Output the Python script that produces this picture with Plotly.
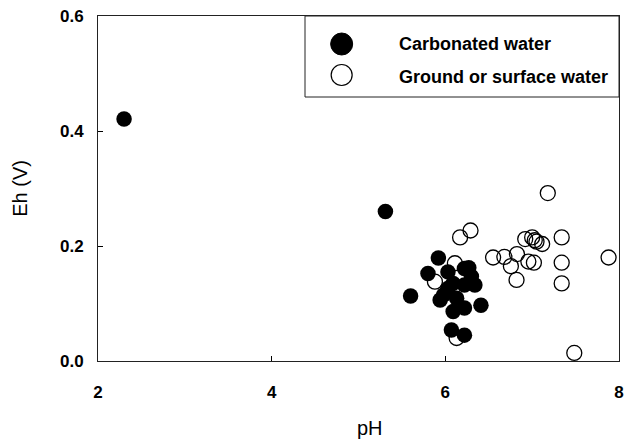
import plotly.graph_objects as go

# Carbonated water (filled markers)
carb_ph = [2.30, 5.31, 5.60, 5.80, 5.92, 5.94, 5.98, 6.03, 6.03, 6.09, 6.09, 6.13,
           6.07, 6.22, 6.27, 6.30, 6.34, 6.22, 6.22, 6.22, 6.41]
carb_eh = [0.421, 0.260, 0.113, 0.152, 0.179, 0.106, 0.115, 0.155, 0.126, 0.135, 0.086, 0.109,
           0.054, 0.161, 0.162, 0.147, 0.132, 0.132, 0.092, 0.045, 0.097]

# Ground or surface water (open markers)
gw_ph = [7.18, 6.17, 6.29, 6.92, 7.03, 7.05, 7.115, 7.00, 7.34, 7.88, 6.55, 6.68, 6.825,
         6.755, 6.956, 7.02, 7.34, 6.82, 7.34, 7.485, 6.11, 6.13, 5.88]
gw_eh = [0.292, 0.215, 0.227, 0.212, 0.210, 0.2075, 0.2035, 0.215, 0.215, 0.180, 0.180, 0.181, 0.186,
         0.165, 0.173, 0.171, 0.171, 0.141, 0.135, 0.014, 0.170, 0.040, 0.138]

x_ticks = [2, 4, 6, 8]
y_ticks = [0.0, 0.2, 0.4, 0.6]
legend_names = ["Carbonated water", "Ground or surface water"]

FONT = "Liberation Sans, Arial, sans-serif"

fig = go.Figure()
fig.add_trace(go.Scatter(
    x=gw_ph, y=gw_eh, mode="markers", name=legend_names[1],
    marker=dict(symbol="circle-open", size=15, color="black", line=dict(width=1.3, color="black")),
    showlegend=False, cliponaxis=False))
fig.add_trace(go.Scatter(
    x=carb_ph, y=carb_eh, mode="markers", name=legend_names[0],
    marker=dict(symbol="circle", size=15.5, color="black", line=dict(width=0)),
    showlegend=False, cliponaxis=False))

L, R, T, B = 98, 3, 16, 80
W, H = 627, 441
pw, ph = W - L - R, H - T - B

def px_x(p):
    return (p - L) / pw

def px_y(p):
    return (H - B - p) / ph

shapes = [
    dict(type="rect", xref="paper", yref="paper",
         x0=px_x(307), x1=1.0, y0=px_y(97), y1=1.0,
         line=dict(color="#222", width=1), fillcolor="white", layer="below"),
    dict(type="circle", xref="paper", yref="paper", xsizemode="pixel", ysizemode="pixel",
         xanchor=px_x(344), yanchor=px_y(44), x0=-11, x1=11, y0=-11, y1=11,
         fillcolor="black", line=dict(color="black", width=1)),
    dict(type="circle", xref="paper", yref="paper", xsizemode="pixel", ysizemode="pixel",
         xanchor=px_x(344), yanchor=px_y(75), x0=-10.5, x1=10.5, y0=-10.5, y1=10.5,
         fillcolor="rgba(0,0,0,0)", line=dict(color="black", width=1.2)),
]

annotations = [
    dict(text=legend_names[0], xref="paper", yref="paper", x=px_x(400), y=px_y(44),
         xanchor="left", yanchor="middle", showarrow=False,
         font=dict(family=FONT, size=18, color="black", weight="bold")),
    dict(text=legend_names[1], xref="paper", yref="paper", x=px_x(400), y=px_y(77),
         xanchor="left", yanchor="middle", showarrow=False,
         font=dict(family=FONT, size=18, color="black", weight="bold")),
    dict(text="pH", xref="paper", yref="paper", x=px_x(373), y=px_y(428),
         xanchor="center", yanchor="middle", showarrow=False,
         font=dict(family=FONT, size=20, color="black")),
    dict(text="Eh (V)", xref="paper", yref="paper", x=px_x(19), y=px_y(188),
         xanchor="center", yanchor="middle", showarrow=False, textangle=-90,
         font=dict(family=FONT, size=20, color="black")),
]

fig.update_layout(
    width=W, height=H,
    margin=dict(l=L, r=R, t=T, b=B),
    paper_bgcolor="white", plot_bgcolor="white",
    shapes=shapes, annotations=annotations,
    showlegend=False,
    font=dict(family=FONT, color="black"),
)
fig.update_xaxes(
    range=[2, 8], tickvals=x_ticks, ticktext=[str(v) for v in x_ticks],
    ticks="inside", ticklen=5, tickcolor="black", tickwidth=1,
    showline=True, linecolor="#222", linewidth=1, mirror=True,
    showgrid=False, zeroline=False, ticklabelstandoff=16, ticklabeloverflow="allow",
    tickfont=dict(family=FONT, size=17, color="black", weight="bold"))
fig.update_yaxes(
    range=[0, 0.6], tickvals=y_ticks, tickformat=".1f",
    ticks="inside", ticklen=5, tickcolor="black", tickwidth=1,
    showline=True, linecolor="#222", linewidth=1, mirror=True,
    showgrid=False, zeroline=False, ticklabelstandoff=10, ticklabeloverflow="allow",
    tickfont=dict(family=FONT, size=17, color="black", weight="bold"))

fig.write_html("out.html")
